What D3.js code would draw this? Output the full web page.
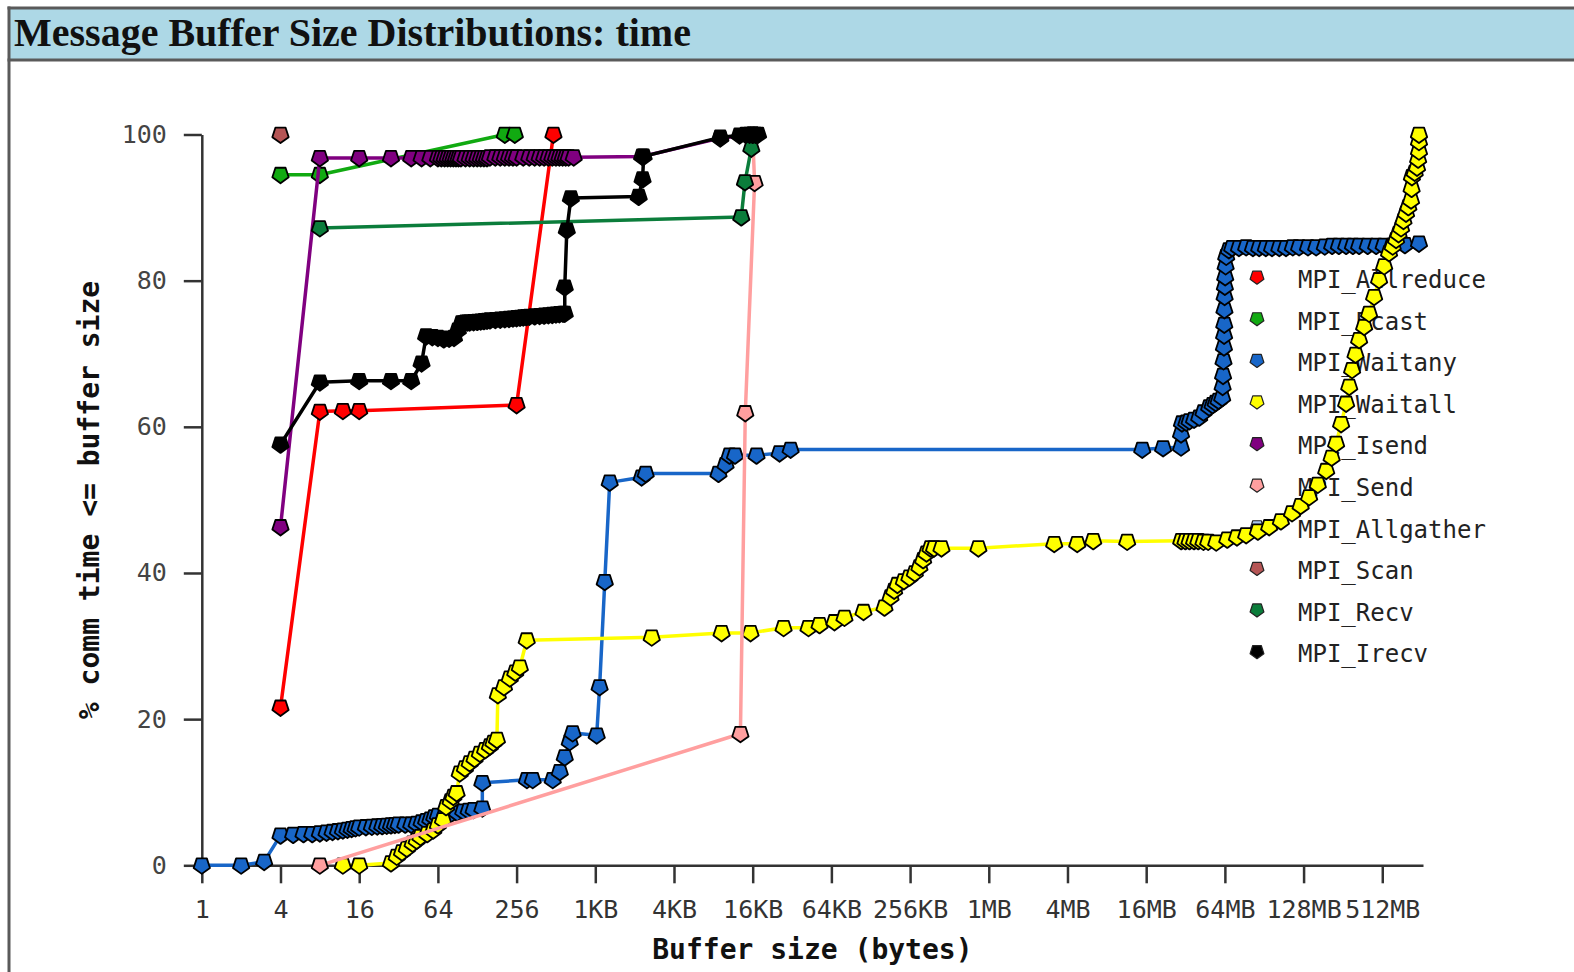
<!DOCTYPE html>
<html>
<head>
<meta charset="utf-8">
<script src="https://cdn.jsdelivr.net/npm/d3@7"></script>
<style>
  html, body { margin: 0; padding: 0; background: #fff; }
  svg { display: block; }
</style>
</head>
<body>
<div id="chart"></div>
<script>
// ---------------- data (x = buffer size in bytes, y = % comm time <= size) ----------------
const seriesNames = ["MPI_Allreduce","MPI_Bcast","MPI_Waitany","MPI_Waitall","MPI_Isend",
                     "MPI_Send","MPI_Allgather","MPI_Scan","MPI_Recv","MPI_Irecv"];
const seriesColors = ["#ff0000","#11aa11","#1866c8","#ffff00","#800080",
                      "#ff9f9f","#aac8f0","#b55555","#0b7d3b","#000000"];

const xTickValues = [1,4,16,64,256,1024,4096,16384,65536,262144,1048576,4194304,
                     16777216,67108864,268435456,1073741824];
const xTickLabels = ["1","4","16","64","256","1KB","4KB","16KB","64KB","256KB","1MB","4MB",
                     "16MB","64MB","128MB","512MB"];
const yTickValues = [0,20,40,60,80,100];
const xDomain = [1, 2.2e9];
const yDomain = [0, 100];

const allreduceData = [[4,21.6],[8,62.1],[12,62.2],[16,62.2],[256,63.0],[490,100]];
const bcastData = [[4,94.5],[8,94.5],[208,100],[248,100]];
const waitanyData = [[1,0],[2,0],[3,0.5],[4,4.1],[5,4.2],[6,4.3],[7,4.3],[8,4.4],[9,4.5],[10,4.6],
  [11,4.7],[12,4.8],[13,4.9],[14,5.0],[15,5.1],[16,5.2],[18,5.25],[20,5.3],[22,5.35],[24,5.4],
  [26,5.45],[28,5.5],[30,5.55],[32,5.6],[36,5.6],[40,5.6],[44,5.7],[48,5.9],[52,6.1],[56,6.3],
  [60,6.6],[64,6.8],[72,6.9],[80,7.0],[90,7.2],[100,7.4],[110,7.5],[120,7.6],[140,7.8],[140,11.3],
  [307,11.7],[340,11.7],[484,11.7],[548,12.8],[598,14.8],[653,16.9],[687,18.1],[1050,17.8],
  [1105,24.4],[1210,38.8],[1320,52.4],[2315,53.1],[2488,53.6],[8970,53.6],[10160,54.8],[10900,56.1],
  [12000,56.1],[17530,56.1],[26300,56.4],[31950,56.9],[15650000,56.9],[22600000,57.1],
  [31000000,57.2],[31000000,59.0],[31500000,60.5],[34000000,60.6],[36000000,60.8],[39000000,61.0],
  [42700000,61.3],[46000000,62.0],[50900000,62.7],[54000000,63.0],[57000000,63.3],[60000000,63.6],
  [64000000,64.0],[64500000,65.5],[65000000,67.0],[65500000,69.0],[66000000,70.9],[66200000,72.5],
  [66400000,74.0],[66600000,76.0],[66800000,77.8],[67100000,79.2],[67500000,80.5],[68000000,82.0],
  [68700000,83.3],[72000000,84.2],[76300000,84.5],[86000000,84.5],[97600000,84.6],[110000000,84.5],
  [122800000,84.5],[138000000,84.5],[154000000,84.5],[175000000,84.5],[197000000,84.5],
  [222000000,84.6],[248000000,84.6],[290000000,84.6],[335000000,84.6],[390000000,84.7],
  [444000000,84.8],[500000000,84.8],[568000000,84.8],[640000000,84.8],[714000000,84.8],
  [830000000,84.8],[964000000,84.8],[1100000000,84.8],[1276000000,84.8],[1600000000,84.9],
  [2050000000,85.1]];
const waitallData = [[12,0],[16,0],[28,0.3],[31,1.2],[34,1.8],[37,2.3],[41,3.0],[44,3.4],[47,3.9],
  [53,4.3],[59,4.8],[64,5.5],[70,6.2],[74,8.0],[80,8.8],[84,9.4],[89,9.9],[94,12.6],[103,13.3],
  [112,14.0],[122,14.6],[134,15.3],[147,15.8],[160,16.3],[170,16.8],[181,17.2],[184,23.3],[205,24.4],
  [227,25.6],[250,26.4],[271,27.1],[306,30.8],[2767,31.2],[9470,31.8],[15770,31.8],[28230,32.5],
  [43800,32.5],[53200,32.9],[69200,33.3],[82500,33.9],[115400,34.7],[167000,35.3],[185700,36.7],
  [198000,37.6],[209700,38.4],[235000,38.9],[259000,39.4],[285000,40.0],[309000,40.8],[330000,41.8],
  [350000,42.7],[375000,43.4],[400000,43.4],[455600,43.4],[873000,43.4],[3320000,44.0],[4980000,44.0],
  [6600000,44.4],[12000000,44.3],[31100000,44.4],[33500000,44.4],[36000000,44.4],[39000000,44.4],
  [42000000,44.4],[46000000,44.3],[50000000,44.3],[57600000,44.2],[70000000,44.6],[83000000,44.9],
  [97600000,45.2],[120000000,45.7],[146500000,46.3],[180000000,47.1],[219000000,48.2],
  [255000000,49.2],[296000000,50.4],[345000000,52.1],[400000000,54.0],[440000000,55.8],
  [476000000,57.7],[520000000,60.4],[568000000,63.2],[600000000,65.5],[631000000,67.8],
  [670000000,69.9],[714000000,71.9],[780000000,73.7],[851000000,75.5],[930000000,77.8],
  [1015000000,80.1],[1110000000,82.0],[1210000000,83.8],[1290000000,84.7],[1369000000,85.6],
  [1430000000,86.4],[1495000000,87.2],[1560000000,88.2],[1632000000,89.2],[1700000000,90.1],
  [1782000000,91.0],[1800000000,92.6],[1810000000,94.2],[1900000000,94.8],[1980000000,95.5],
  [2020000000,96.6],[2050000000,97.7],[2050000000,99.0],[2050000000,100]];
const isendData = [[4,46.3],[8,96.8],[16,96.8],[28,96.8],[40,96.8],[48,96.8],[56,96.8],[64,96.8],
  [68,96.8],[72,96.8],[76,96.8],[80,96.8],[84,96.8],[88,96.8],[92,96.8],[96,96.8],[104,96.8],
  [112,96.8],[120,96.8],[128,96.8],[136,96.8],[144,96.8],[152,96.8],[160,96.9],[176,96.9],
  [192,96.9],[208,96.9],[224,96.9],[240,96.9],[256,96.9],[288,96.9],[320,96.9],[352,96.9],
  [384,96.9],[416,96.9],[448,96.9],[480,96.9],[512,96.9],[544,96.9],[576,96.9],[608,96.9],
  [640,96.9],[700,96.9],[2335,97.0],[9250,99.5],[16384,100]];
const sendData = [[8,0],[13200,18.0],[14380,61.9],[16940,93.4],[16384,100]];
const allgatherData = [];
const scanData = [[4,100]];
const recvData = [[8,87.2],[13400,88.7],[14300,93.5],[16000,98.1],[16384,100]];
const irecvData = [[4,57.6],[8,66.1],[16,66.3],[28,66.3],[40,66.3],[48,68.7],[52,72.4],[58,72.3],
  [64,72.2],[71,72.0],[78,72.1],[85,72.2],[91,73.2],[97,74.2],[100,74.2],[104,74.3],[108,74.3],
  [112,74.3],[120,74.35],[128,74.4],[136,74.45],[144,74.5],[152,74.55],[160,74.6],[176,74.65],
  [192,74.7],[208,74.75],[224,74.8],[240,74.85],[256,74.9],[272,74.95],[288,75.0],[304,75.05],
  [320,75.1],[352,75.15],[384,75.2],[416,75.25],[448,75.3],[480,75.35],[512,75.4],[544,75.45],
  [580,75.5],[598,75.5],[598,79.1],[620,86.9],[666,91.3],[2200,91.5],[2355,93.9],[2400,97.0],
  [9250,99.6],[13000,99.9],[14500,100],[15500,100],[16384,100],[17200,100],[18000,100]];

const seriesData = [allreduceData,bcastData,waitanyData,waitallData,isendData,
                    sendData,allgatherData,scanData,recvData,irecvData];

// ---------------- layout ----------------
const W = 1574, H = 972;
const plotLeft = 201.8, plotRight = 1423, plotTop = 134.5, plotBottom = 865.3;
const monoFont = "'DejaVu Sans Mono', 'Liberation Mono', monospace";

const svg = d3.select("#chart").append("svg").attr("width", W).attr("height", H);

// panel frame + title bar
svg.append("rect").attr("x", 9).attr("y", 8).attr("width", W).attr("height", 51)
  .attr("fill", "#add8e6");
svg.append("line").attr("x1", 7.5).attr("x2", W).attr("y1", 8).attr("y2", 8)
  .attr("stroke", "#5a5a5a").attr("stroke-width", 3);
svg.append("line").attr("x1", 7.5).attr("x2", W).attr("y1", 60).attr("y2", 60)
  .attr("stroke", "#5a5a5a").attr("stroke-width", 3);
svg.append("line").attr("x1", 9).attr("x2", 9).attr("y1", 6.5).attr("y2", H)
  .attr("stroke", "#5a5a5a").attr("stroke-width", 3);
svg.append("text").attr("x", 14).attr("y", 46)
  .attr("font-family", "'Liberation Serif', 'DejaVu Serif', serif")
  .attr("font-weight", "bold").attr("font-size", 40).attr("fill", "#111")
  .text("Message Buffer Size Distributions: time");

// scales
const x = d3.scaleLog().base(4).domain(xDomain).range([plotLeft, plotRight]);
const y = d3.scaleLinear().domain(yDomain).range([plotBottom, plotTop]);

// axes
const xAxis = d3.axisBottom(x).tickValues(xTickValues)
  .tickFormat((d, i) => xTickLabels[i]).tickSize(18).tickSizeOuter(0).tickPadding(17);
const gx = svg.append("g").attr("transform", `translate(0,${plotBottom})`).call(xAxis);
gx.select(".domain").attr("stroke", "#333").attr("stroke-width", 2.5);
gx.selectAll(".tick line").attr("stroke", "#333").attr("stroke-width", 2.5);
gx.selectAll(".tick text").attr("font-family", monoFont).attr("font-size", 25).attr("fill", "#333");

const yAxis = d3.axisLeft(y).tickValues(yTickValues).tickSize(18).tickSizeOuter(0).tickPadding(17);
const gy = svg.append("g").attr("transform", `translate(${plotLeft},0)`).call(yAxis);
gy.select(".domain").attr("stroke", "#333").attr("stroke-width", 2.5);
gy.selectAll(".tick line").attr("stroke", "#333").attr("stroke-width", 2.5);
gy.selectAll(".tick text").attr("font-family", monoFont).attr("font-size", 25).attr("fill", "#444");

// axis titles
svg.append("text").attr("x", (plotLeft + plotRight) / 2).attr("y", 959)
  .attr("text-anchor", "middle").attr("font-family", monoFont).attr("font-weight", "bold")
  .attr("font-size", 28).attr("fill", "#111").text("Buffer size (bytes)");
svg.append("text").attr("transform", "translate(99,500) rotate(-90)")
  .attr("text-anchor", "middle").attr("font-family", monoFont).attr("font-weight", "bold")
  .attr("font-size", 28).attr("fill", "#111").text("% comm time <= buffer size");

// marker shape: pentagon pointing down
const pentagon = {
  draw(ctx, size) {
    const r = Math.sqrt(size / 2.378);
    for (let i = 0; i < 5; i++) {
      const a = Math.PI / 2 + i * 2 * Math.PI / 5;
      const px = r * Math.cos(a), py = r * Math.sin(a);
      if (i === 0) ctx.moveTo(px, py); else ctx.lineTo(px, py);
    }
    ctx.closePath();
  }
};
const markerPath = d3.symbol().type(pentagon).size(175)();
const legendMarkerPath = d3.symbol().type(pentagon).size(125)();

// legend (drawn under the data, like the reference)
const legend = svg.append("g");
seriesNames.forEach((name, i) => {
  const cy = 279 + i * 41.6;
  legend.append("path").attr("d", legendMarkerPath)
    .attr("transform", `translate(1257,${cy - 2})`)
    .attr("fill", seriesColors[i]).attr("stroke", "#222").attr("stroke-width", 1.2)
    .attr("stroke-linejoin", "round");
  legend.append("text").attr("x", 1298).attr("y", cy + 9)
    .attr("font-family", monoFont).attr("font-size", 24).attr("fill", "#222").text(name);
});

// series
const line = d3.line().x(d => x(d[0])).y(d => y(d[1]));
seriesData.forEach((data, i) => {
  const g = svg.append("g");
  if (data.length > 1) {
    g.append("path").datum(data).attr("d", line).attr("fill", "none")
      .attr("stroke", seriesColors[i]).attr("stroke-width", 3.5).attr("stroke-linejoin", "round");
  }
  g.selectAll("path.pt").data(data).join("path").attr("class", "pt")
    .attr("d", markerPath)
    .attr("transform", d => `translate(${x(d[0])},${y(d[1])})`)
    .attr("fill", seriesColors[i]).attr("stroke", "#000").attr("stroke-width", 1.8)
    .attr("stroke-linejoin", "round");
});
</script>
</body>
</html>
